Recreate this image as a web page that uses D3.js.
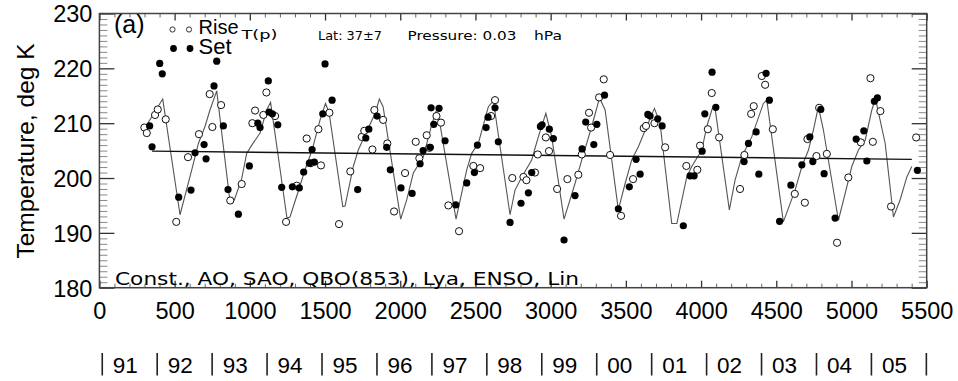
<!DOCTYPE html>
<html lang="en">
<head>
<meta charset="UTF-8">
<title>Temperature, Rise/Set fit</title>
<script src="https://cdn.jsdelivr.net/npm/d3@7"></script>
<style>
* { margin: 0; padding: 0; }
body { background: #fff; }
svg { display: block; }
text { font-family: "Liberation Sans", Arial, Helvetica, sans-serif; fill: #000; }
.thin { font-family: "DejaVu Sans", "Lato", sans-serif; }
</style>
</head>
<body>
<div id="chart"></div>
<script>
// Sunrise occultations (open circles): day number, temperature (K)
var riseDay = [299, 315, 370, 388, 441, 511, 589, 662, 733, 751, 809, 870, 946, 1017, 1035, 1090, 1110, 1168,
	1241, 1312, 1378, 1405, 1456, 1473, 1529, 1593, 1668, 1744, 1761, 1815, 1828, 1886, 1914, 1959, 2032, 2103,
	2127, 2176, 2194, 2241, 2271, 2320, 2391, 2486, 2531, 2604, 2630, 2745, 2819, 2839, 2896, 2914, 2968, 2989,
	3043, 3111, 3184, 3207, 3255, 3269, 3322, 3353, 3395, 3468, 3548, 3619, 3634, 3690, 3761, 3902, 3975, 3993,
	4045, 4071, 4120, 4259, 4288, 4333, 4350, 4404, 4426, 4477, 4623, 4690, 4707, 4767, 4785, 4836, 4904, 4979,
	5062, 5126, 5142, 5192, 5263, 5430];
var riseTemp = [209.2, 208.2, 211.5, 212.5, 210.7, 192.0, 203.8, 208.0, 215.3, 209.3, 213.3, 195.9, 198.9, 210.0, 212.3, 211.5, 215.6, 211.3,
	192.0, 198.6, 207.2, 202.7, 208.9, 202.3, 211.9, 191.6, 201.2, 207.5, 208.6, 205.2, 212.4, 210.6, 206.3, 193.9, 200.9, 206.6,
	203.6, 207.8, 205.5, 211.3, 210.1, 195.0, 190.3, 202.2, 201.8, 211.3, 214.2, 200.0, 200.2, 199.6, 201.0, 204.3, 207.4, 204.9,
	198.0, 199.8, 200.6, 204.3, 211.9, 209.2, 214.7, 218.0, 204.2, 193.1, 199.8, 209.1, 209.5, 210.0, 205.6, 202.2, 201.5, 205.9,
	208.9, 215.5, 207.4, 198.0, 204.2, 211.7, 213.1, 218.6, 217.0, 208.9, 197.1, 195.5, 207.1, 204.0, 212.8, 204.4, 188.2, 200.1,
	206.5, 218.2, 206.6, 212.2, 194.8, 207.4];

// Sunset occultations (filled circles)
var setDay = [334, 350, 401, 418, 527, 609, 636, 696, 709, 762, 780, 824, 855, 924, 997, 1053, 1068, 1123, 1128, 1150,
	1186, 1212, 1283, 1329, 1358, 1396, 1414, 1429, 1485, 1500, 1547, 1717, 1771, 1791, 1846, 1910, 1934, 2005, 2079,
	2132, 2152, 2200, 2205, 2223, 2258, 2298, 2369, 2442, 2493, 2513, 2571, 2584, 2630, 2652, 2730, 2803, 2852, 2874,
	2932, 2943, 2991, 3018, 3089, 3162, 3209, 3233, 3287, 3307, 3358, 3450, 3523, 3568, 3595, 3646, 3661, 3712, 3741,
	3882, 3927, 3954, 4007, 4025, 4073, 4098, 4286, 4315, 4366, 4384, 4432, 4454, 4522, 4597, 4670, 4723, 4743, 4796,
	4818, 4891, 5031, 5082, 5102, 5152, 5172, 5438];
var setTemp = [209.5, 205.7, 220.9, 219.0, 196.5, 197.8, 204.6, 206.1, 203.5, 216.8, 221.3, 209.5, 197.9, 193.4, 202.2, 210.0, 209.2, 217.7, 212.0, 211.7,
	209.7, 198.3, 198.4, 198.2, 201.1, 202.7, 205.2, 202.9, 211.7, 220.8, 214.2, 197.9, 207.3, 208.9, 211.3, 205.6, 201.5, 198.2, 197.2,
	202.6, 205.0, 205.6, 212.8, 209.8, 212.7, 206.8, 195.1, 199.1, 201.0, 206.0, 209.2, 211.1, 212.8, 206.6, 191.9, 195.4, 197.3, 201.0,
	209.4, 209.7, 208.9, 207.2, 188.7, 196.8, 205.3, 210.2, 206.1, 209.8, 215.1, 194.4, 198.4, 203.4, 200.7, 211.6, 211.3, 210.8, 209.5,
	191.3, 200.4, 200.4, 204.9, 211.7, 219.3, 212.9, 203.0, 206.3, 208.4, 200.7, 219.1, 214.2, 192.1, 198.7, 202.4, 207.5, 203.0, 212.5,
	200.8, 192.7, 207.1, 208.6, 203.1, 214.0, 214.6, 201.4];

// Regression fit (Const., AO, SAO, QBO, Lya, ENSO, Lin)
var fitDay = [310, 421, 536, 614, 658, 702, 735, 780, 868, 897, 946, 979, 1013, 1068, 1112, 1138, 1247, 1267, 1321, 1367,
	1414, 1467, 1503, 1527, 1618, 1633, 1688, 1721, 1766, 1833, 1861, 1886, 2003, 2043, 2087, 2154, 2209, 2238, 2265,
	2371, 2442, 2475, 2519, 2586, 2619, 2730, 2763, 2808, 2874, 2918, 2968, 3007, 3089, 3162, 3207, 3273, 3325, 3362,
	3450, 3495, 3539, 3583, 3639, 3690, 3727, 3805, 3839, 3905, 3938, 4005, 4038, 4075, 4093, 4188, 4226, 4271, 4337,
	4414, 4437, 4547, 4625, 4670, 4714, 4747, 4780, 4813, 4913, 4958, 5002, 5046, 5091, 5135, 5160, 5224, 5279, 5323,
	5368, 5401];
var fitTemp = [209.5, 214.4, 193.3, 201.5, 206.3, 209.4, 212.4, 215.9, 195.7, 196.0, 199.9, 204.5, 206.0, 208.2, 212.4, 213.8, 192.7, 192.9, 197.5, 201.5,
	205.1, 210.6, 213.6, 211.9, 194.8, 194.9, 202.1, 205.1, 207.8, 211.8, 214.4, 213.0, 192.5, 196.0, 200.9, 203.9, 209.7, 212.1, 209.7,
	192.5, 201.5, 204.5, 206.3, 213.0, 214.1, 193.3, 197.8, 200.2, 203.3, 207.5, 211.8, 207.5, 192.5, 199.0, 203.3, 209.4, 214.6, 212.4,
	194.2, 199.0, 203.3, 205.7, 209.4, 212.7, 210.0, 191.7, 191.7, 200.2, 202.1, 205.1, 209.4, 212.7, 212.7, 194.2, 199.6, 203.9, 207.5,
	213.6, 214.2, 192.0, 197.8, 202.1, 205.1, 208.8, 213.0, 208.8, 192.3, 197.2, 202.1, 205.1, 206.9, 212.4, 214.4, 206.3, 192.9, 196.0,
	200.2, 202.1];

// Linear trend
var trendDay = [350, 5401];
var trendTemp = [204.9, 203.4];

var xTicks = [0, 500, 1000, 1500, 2000, 2500, 3000, 3500, 4000, 4500, 5000, 5500];
var yTicks = [180, 190, 200, 210, 220, 230];
var years = ["91", "92", "93", "94", "95", "96", "97", "98", "99", "00", "01", "02", "03", "04", "05"];
var yearOffsetDay = 19;

var width = 958, height = 381;
var plot = { left: 99.4, right: 926.7, top: 13.5, bottom: 287.7 };

var svg = d3.select("#chart").append("svg")
	.attr("width", width)
	.attr("height", height);

var x = d3.scaleLinear().domain([0, 5500]).range([plot.left, plot.right]);
var y = d3.scaleLinear().domain([180, 230]).range([plot.bottom, plot.top]);

var xMinor = d3.range(0, 5501, 100).filter(function(v) { return v % 500 !== 0; });
var yMinor = d3.range(180, 231, 1).filter(function(v) { return v % 10 !== 0; });

function styleAxis(g, color, w) {
	g.select(".domain").remove();
	g.selectAll(".tick line").attr("stroke", color).attr("stroke-width", w);
}

// minor ticks (all four sides, inward)
svg.append("g").attr("transform", "translate(0," + plot.bottom + ")")
	.call(d3.axisBottom(x).tickValues(xMinor).tickSize(-4).tickFormat(""))
	.call(styleAxis, "#666", 1);
svg.append("g").attr("transform", "translate(0," + plot.top + ")")
	.call(d3.axisTop(x).tickValues(xMinor).tickSize(-4).tickFormat(""))
	.call(styleAxis, "#666", 1);
svg.append("g").attr("transform", "translate(" + plot.left + ",0)")
	.call(d3.axisLeft(y).tickValues(yMinor).tickSize(-8).tickFormat(""))
	.call(styleAxis, "#888", 1);
svg.append("g").attr("transform", "translate(" + plot.right + ",0)")
	.call(d3.axisRight(y).tickValues(yMinor).tickSize(-8).tickFormat(""))
	.call(styleAxis, "#888", 1);

// major ticks and labels
var xAxis = svg.append("g").attr("transform", "translate(0," + plot.bottom + ")")
	.call(d3.axisBottom(x).tickValues(xTicks).tickSizeInner(-7).tickSizeOuter(0).tickPadding(15).tickFormat(d3.format("d")))
	.call(styleAxis, "#333", 1.3);
xAxis.selectAll("text").attr("font-size", 23.5).attr("fill", "#000");
svg.append("g").attr("transform", "translate(0," + plot.top + ")")
	.call(d3.axisTop(x).tickValues(xTicks).tickSize(-7).tickFormat(""))
	.call(styleAxis, "#333", 1.3);
var yAxis = svg.append("g").attr("transform", "translate(" + plot.left + ",0)")
	.call(d3.axisLeft(y).tickValues(yTicks).tickSizeInner(-15).tickSizeOuter(0).tickPadding(7).tickFormat(d3.format("d")))
	.call(styleAxis, "#333", 1.3);
yAxis.selectAll("text").attr("font-size", 23.5).attr("fill", "#000").attr("dy", "0.36em");
svg.append("g").attr("transform", "translate(" + plot.right + ",0)")
	.call(d3.axisRight(y).tickValues(yTicks).tickSize(-15).tickFormat(""))
	.call(styleAxis, "#333", 1.3);

// frame
svg.append("rect")
	.attr("x", plot.left).attr("y", plot.top)
	.attr("width", plot.right - plot.left).attr("height", plot.bottom - plot.top)
	.attr("fill", "none").attr("stroke", "#444").attr("stroke-width", 1.5);

// fit curve and trend
var fitPts = fitDay.map(function(d, i) { return [d, fitTemp[i]]; });
var line = d3.line().x(function(d) { return x(d[0]); }).y(function(d) { return y(d[1]); });
svg.append("path").datum(fitPts)
	.attr("d", line).attr("fill", "none").attr("stroke", "#555").attr("stroke-width", 1.1);
svg.append("path").datum(trendDay.map(function(d, i) { return [d, trendTemp[i]]; }))
	.attr("d", line).attr("fill", "none").attr("stroke", "#111").attr("stroke-width", 1.4);

// observations
var risePts = riseDay.map(function(d, i) { return [d, riseTemp[i]]; });
var setPts = setDay.map(function(d, i) { return [d, setTemp[i]]; });
svg.append("g").selectAll("circle").data(risePts).join("circle")
	.attr("cx", function(d) { return x(d[0]); })
	.attr("cy", function(d) { return y(d[1]); })
	.attr("r", 3.6).attr("fill", "#fff").attr("stroke", "#111").attr("stroke-width", 1);
svg.append("g").selectAll("circle").data(setPts).join("circle")
	.attr("cx", function(d) { return x(d[0]); })
	.attr("cy", function(d) { return y(d[1]); })
	.attr("r", 3.6).attr("fill", "#000");

// panel label and legend
svg.append("text").attr("x", 114).attr("y", 32.5).attr("font-size", 25).text("(a)");
[172.5, 189].forEach(function(cx) {
	svg.append("circle").attr("cx", cx).attr("cy", 29.5).attr("r", 2.6)
		.attr("fill", "none").attr("stroke", "#333").attr("stroke-width", 1);
	svg.append("circle").attr("cx", cx + 1).attr("cy", 48.5).attr("r", 3.4).attr("fill", "#000");
});
svg.append("text").attr("x", 198.5).attr("y", 33.5).attr("font-size", 21)
	.attr("textLength", 40).attr("lengthAdjust", "spacingAndGlyphs").text("Rise");
svg.append("text").attr("x", 198.5).attr("y", 53.5).attr("font-size", 22).text("Set");
svg.append("text").attr("class", "thin").attr("x", 241.5).attr("y", 38.5).attr("font-size", 12)
	.attr("fill", "#222").attr("textLength", 36).attr("lengthAdjust", "spacingAndGlyphs").text("T(p)");
svg.append("text").attr("class", "thin").attr("x", 318).attr("y", 40).attr("font-size", 12.5)
	.attr("fill", "#222").attr("textLength", 64).attr("lengthAdjust", "spacingAndGlyphs").text("Lat: 37±7");
svg.append("text").attr("class", "thin").attr("x", 407.5).attr("y", 40).attr("font-size", 12.5)
	.attr("fill", "#222").attr("textLength", 109).attr("lengthAdjust", "spacingAndGlyphs").text("Pressure: 0.03");
svg.append("text").attr("class", "thin").attr("x", 534).attr("y", 40).attr("font-size", 12.5)
	.attr("fill", "#222").attr("textLength", 28).attr("lengthAdjust", "spacingAndGlyphs").text("hPa");

// fit terms
svg.append("text").attr("class", "thin").attr("x", 115).attr("y", 284.5).attr("font-size", 18.5)
	.attr("fill", "#555").attr("textLength", 464).attr("lengthAdjust", "spacingAndGlyphs")
	.text("Const., AO, SAO, QBO(853), Lya, ENSO, Lin");

// y axis title
svg.append("text")
	.attr("transform", "translate(33.5," + 151 + ") rotate(-90)")
	.attr("text-anchor", "middle").attr("font-size", 24.5)
	.text("Temperature, deg K");

// year row
var yearBars = d3.range(years.length + 1).map(function(i) { return yearOffsetDay + i * 365.25; });
svg.append("g").selectAll("line").data(yearBars).join("line")
	.attr("x1", function(d) { return x(d); }).attr("x2", function(d) { return x(d); })
	.attr("y1", 353).attr("y2", 375.5)
	.attr("stroke", "#222").attr("stroke-width", 1.6);
svg.append("g").selectAll("text").data(years).join("text")
	.attr("x", function(d, i) { return x(yearBars[i]) + 10.5; })
	.attr("y", 372.5).attr("font-size", 22.5)
	.text(function(d) { return d; });
</script>
</body>
</html>
